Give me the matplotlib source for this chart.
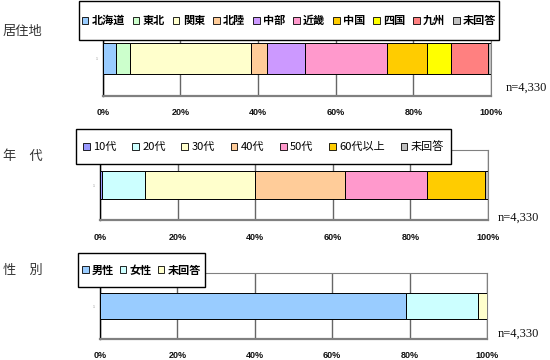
import matplotlib
matplotlib.use("Agg")
import matplotlib.pyplot as plt
from matplotlib.patches import Patch, Rectangle

plt.rcParams['font.family'] = ['Noto Sans CJK JP', 'DejaVu Sans']

# 居住地
region_labels = ["北海道", "東北", "関東", "北陸", "中部", "近畿", "中国", "四国", "九州", "未回答"]
region_values = [3.4, 3.6, 31.1, 4.3, 9.8, 21.0, 10.3, 6.2, 9.4, 0.9]
region_colors = ["#99CCFF", "#CCFFCC", "#FFFFCC", "#FFCC99", "#CC99FF",
                 "#FF99CC", "#FFCC00", "#FFFF00", "#FF8080", "#C0C0C0"]

# 年代
age_labels = ["10代", "20代", "30代", "40代", "50代", "60代以上", "未回答"]
age_values = [0.5, 11.1, 28.4, 23.2, 21.1, 14.9, 0.8]
age_colors = ["#9999FF", "#CCFFFF", "#FFFFCC", "#FFCC99", "#FF99CC", "#FFCC00", "#C0C0C0"]

# 性別
sex_labels = ["男性", "女性", "未回答"]
sex_values = [79.1, 18.7, 2.2]
sex_colors = ["#99CCFF", "#CCFFFF", "#FFFFCC"]

x_ticks = [0, 20, 40, 60, 80, 100]
x_ticklabels = ["0%", "20%", "40%", "60%", "80%", "100%"]
n_label = "n=4,330"

W, H = 550, 360
fig = plt.figure(figsize=(W / 100, H / 100), dpi=100)


def fbox(x0, y0, x1, y1):
    # pixel box (origin top-left) -> figure fraction [left, bottom, width, height]
    return [x0 / W, 1 - y1 / H, (x1 - x0) / W, (y1 - y0) / H]


panels = [
    dict(title="居住地", labels=region_labels, values=region_values, colors=region_colors,
         ax_px=(102.7, 21, 491, 96), leg_px=(79, 1, 499, 40), title_xy=(3, 31.7),
         n_xy=(506, 88), pad=8.4, weight="bold", colsp=0.7),
    dict(title="年\u3000代", labels=age_labels, values=age_values, colors=age_colors,
         ax_px=(100, 150, 488, 220), leg_px=(76, 129.5, 451, 164), title_xy=(3, 156.7),
         n_xy=(498, 218), pad=9.2, weight="normal", colsp=1.42),
    dict(title="性\u3000別", labels=sex_labels, values=sex_values, colors=sex_colors,
         ax_px=(100, 273.3, 487, 339), leg_px=(78, 253, 205, 287.3), title_xy=(3, 270),
         n_xy=(498, 334), pad=8.3, weight="bold", colsp=0.5),
]

for p in panels:
    ax = fig.add_axes(fbox(*p["ax_px"]))
    left = 0
    for lab, v, c in zip(p["labels"], p["values"], p["colors"]):
        ax.barh(0, v, left=left, height=0.4, color=c, edgecolor="black",
                linewidth=0.7, zorder=3)
        left += v
    ax.set_xlim(0, 100)
    ax.set_ylim(-0.5, 0.5)
    ax.set_xticks(x_ticks)
    ax.set_xticklabels(x_ticklabels, family="Liberation Sans", fontweight="bold",
                       fontsize=6.5, color="#111111")
    ax.tick_params(axis="x", length=0, pad=p["pad"])
    ax.set_yticks([0])
    ax.set_yticklabels(["1"], fontsize=2.5, color="#888888")
    ax.tick_params(axis="y", length=0, pad=4)
    ax.xaxis.grid(True, color="#666666", linewidth=1.0)
    ax.set_axisbelow(True)
    for s in ["top", "right"]:
        ax.spines[s].set_color("#808080")
        ax.spines[s].set_linewidth(0.8)
    ax.spines["bottom"].set_color("#808080")
    ax.spines["bottom"].set_linewidth(1.6)
    ax.spines["left"].set_color("black")
    ax.spines["left"].set_linewidth(1.0)

    # 凡例の枠
    x0, y0, x1, y1 = p["leg_px"]
    b = fbox(x0, y0, x1, y1)
    fig.add_artist(Rectangle((b[0], b[1]), b[2], b[3], transform=fig.transFigure,
                             facecolor="white", edgecolor="black", linewidth=1.0, zorder=4))
    handles = [Patch(facecolor=c, edgecolor="black", linewidth=0.6) for c in p["colors"]]
    fig.legend(handles, p["labels"], loc="center",
               bbox_to_anchor=(b[0] + b[2] / 2, b[1] + b[3] / 2),
               ncol=len(p["labels"]), frameon=False, handlelength=0.6, handleheight=0.6,
               handletextpad=0.3, columnspacing=p["colsp"], borderpad=0,
               prop=dict(family=["Noto Sans CJK JP", "DejaVu Sans"], size=8,
                         weight=p["weight"]))

    tx, ty = p["title_xy"]
    fig.text(tx / W, 1 - ty / H, p["title"], ha="left", va="center", fontsize=9.5,
             color="#333333")
    nx, ny = p["n_xy"]
    fig.text(nx / W, 1 - ny / H, n_label, ha="left", va="center",
             family="Liberation Serif", fontsize=9, color="#111111")

fig.savefig("out.png", dpi=100)
